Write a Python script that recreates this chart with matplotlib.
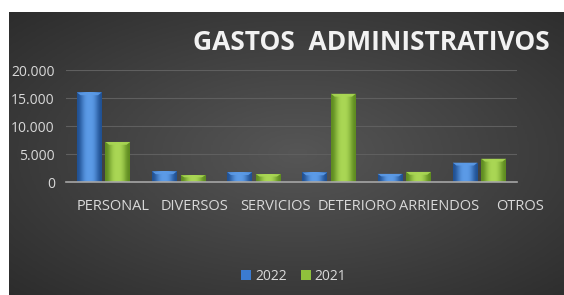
import numpy as np
import matplotlib
matplotlib.use('Agg')
import matplotlib.pyplot as plt
from matplotlib.colors import LinearSegmentedColormap
from matplotlib.ticker import FuncFormatter

# datos
categorias = ['PERSONAL', 'DIVERSOS', 'SERVICIOS', 'DETERIORO', 'ARRIENDOS', 'OTROS']
gastos_2022 = [16000, 1900, 1750, 1700, 1450, 3450]
gastos_2021 = [7150, 1200, 1400, 15750, 1800, 4150]
anios = ['2022', '2021']

azul = '#3b7bd0'
verde = '#8fc13c'

plt.rcParams['font.family'] = ['Open Sans', 'DejaVu Sans']

fig = plt.figure(figsize=(5.64, 2.95), dpi=100)
fig.patch.set_facecolor('white')

# fondo oscuro con degradado radial
bg = fig.add_axes([9 / 564, 0, 1 - 9 / 564, 1 - 12 / 295])
bg.set_axis_off()
yy, xx = np.mgrid[0:1:200j, 0:1:300j]
r = np.sqrt(((xx - 0.52) / 0.75) ** 2 + ((yy - 0.5) / 0.75) ** 2)
bg_cmap = LinearSegmentedColormap.from_list('bg', ['#565656', '#2b2b2b'])
bg.imshow(r, cmap=bg_cmap, aspect='auto', extent=[0, 1, 0, 1], vmin=0, vmax=1)

ax = fig.add_axes([66 / 564, 1 - 182 / 295, (517 - 66) / 564, (182 - 70) / 295])
ax.set_facecolor('none')

x = np.arange(len(categorias))
w = 0.33
gap = 0.05
b1 = ax.bar(x - (w + gap) / 2, gastos_2022, w, color=azul, label=anios[0], zorder=3)
b2 = ax.bar(x + (w + gap) / 2, gastos_2021, w, color=verde, label=anios[1], zorder=3)

# efecto biselado: degradado horizontal y tapa clara
grad = np.array([[0.0, 0.55, 1.0, 1.0, 1.0, 0.55, 0.0]])
for bars, c_osc, c_cla in [(b1, '#1f4f91', '#5b9ae6'), (b2, '#5d8a1f', '#a9d654')]:
    cm = LinearSegmentedColormap.from_list('b', [c_osc, c_cla])
    for p in bars:
        x0, y0 = p.get_x(), p.get_y()
        pw, ph = p.get_width(), p.get_height()
        im = ax.imshow(grad, cmap=cm, aspect='auto', extent=[x0, x0 + pw, y0, y0 + ph],
                       zorder=4, interpolation='bicubic')
        im.set_clip_path(p)
        cap = min(500, ph * 0.3)
        ax.fill([x0, x0 + pw, x0 + pw * 0.85, x0 + pw * 0.15],
                [y0 + ph, y0 + ph, y0 + ph - cap, y0 + ph - cap],
                color=c_cla, alpha=0.9, zorder=5, lw=0)

ax.set_xlim(-0.5, len(categorias) - 0.5)
ax.set_ylim(0, 20000)
ax.set_yticks([0, 5000, 10000, 15000, 20000])
ax.yaxis.set_major_formatter(FuncFormatter(lambda v, p: f'{int(v):,}'.replace(',', '.')))
ax.set_xticks(x)
ax.set_xticklabels([])
ax.tick_params(axis='both', length=0, colors='#d9d9d9', labelsize=10)
ax.tick_params(axis='y', pad=8)
ax.grid(axis='y', color='#5f5f5f', lw=0.8, zorder=0)
for s in ['top', 'right', 'left']:
    ax.spines[s].set_visible(False)
ax.spines['bottom'].set_color('#a6a6a6')
ax.spines['bottom'].set_linewidth(1.2)
ax.spines['bottom'].set_zorder(6)

# etiquetas de categoria (en la imagen estan algo mas espaciadas que las barras)
lab = fig.add_axes([72 / 564, 1 - 182 / 295, (561 - 72) / 564, 0.001])
lab.set_facecolor('none')
lab.set_xlim(-0.5, len(categorias) - 0.5)
lab.set_yticks([])
lab.set_xticks(x)
lab.set_xticklabels(categorias)
lab.tick_params(axis='x', length=0, colors='#d9d9d9', labelsize=10.5, pad=12)
for s in lab.spines.values():
    s.set_visible(False)

fig.text(550 / 564, 1 - 43 / 295, 'GASTOS  ADMINISTRATIVOS', ha='right', va='center',
         fontsize=19, fontweight='bold', color='#f2f2f2')

leg = fig.legend(loc='center', bbox_to_anchor=(294 / 564, 1 - 276 / 295), ncol=2,
                 frameon=False, fontsize=10, handlelength=0.7, handleheight=0.7,
                 handletextpad=0.3, columnspacing=1.0)
for t in leg.get_texts():
    t.set_color('#d9d9d9')

fig.savefig('out.png', dpi=100)
